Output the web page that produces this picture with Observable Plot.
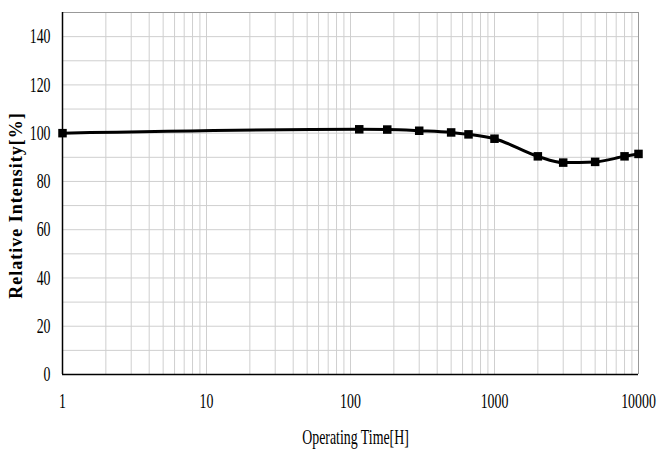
<!DOCTYPE html>
<html>
<head>
<meta charset="utf-8">
<script src="https://cdn.jsdelivr.net/npm/d3@7"></script>
<script src="https://cdn.jsdelivr.net/npm/@observablehq/plot@0.6"></script>
<style>
  html, body { margin: 0; padding: 0; background: #fff; }
  svg { display: block; }
</style>
</head>
<body>
<div id="chart"></div>
<script>
// Data
const hours = [1, 115, 180, 300, 500, 660, 1000, 2000, 3000, 5000, 8000, 10000];
const intensity = [100, 101.6, 101.5, 101, 100.3, 99.5, 97.7, 90.4, 87.8, 88.1, 90.4, 91.4];

const xTicks = [1, 10, 100, 1000, 10000];
const yTicks = [0, 20, 40, 60, 80, 100, 120, 140];
const yGrid = [10, 20, 30, 40, 50, 60, 70, 80, 90, 100, 110, 120, 130, 140];
const decades = [1, 10, 100, 1000];
const xGrid = decades.flatMap(d => [2, 3, 4, 5, 6, 7, 8, 9, 10].map(m => m * d)).filter(v => v < 10000);

const data = hours.map((h, i) => ({h, v: intensity[i]}));

const chart = Plot.plot({
  width: 657,
  height: 449,
  marginLeft: 62,
  marginRight: 19,
  marginTop: 12,
  marginBottom: 75,
  style: {fontFamily: "'Liberation Serif', 'DejaVu Serif', serif", background: "#fff", color: "#000"},
  x: {type: "log", domain: [1, 10000]},
  y: {domain: [0, 150]},
  marks: [
    Plot.ruleX(xGrid, {stroke: "#cfcfcf", strokeWidth: 1, strokeOpacity: 1}),
    Plot.ruleY(yGrid, {stroke: "#cfcfcf", strokeWidth: 1, strokeOpacity: 1}),
    Plot.ruleY([150], {stroke: "#999", strokeWidth: 1}),
    Plot.ruleX([10000], {stroke: "#999", strokeWidth: 1}),
    Plot.ruleX([1], {stroke: "#000", strokeWidth: 1.5}),
    Plot.ruleY([0], {stroke: "#000", strokeWidth: 1.5}),
    Plot.axisX({ticks: xTicks, tickFormat: d => String(d), tickSize: 0, tickPadding: 19,
      label: "Operating Time[H]", labelAnchor: "center", labelArrow: "none", labelOffset: 69}),
    Plot.axisY({ticks: yTicks, tickSize: 0, tickPadding: 12,
      label: "Relative Intensity[%]", labelAnchor: "center", labelArrow: "none", labelOffset: 53}),
    Plot.line(data, {x: "h", y: "v", stroke: "#000", strokeWidth: 3, curve: "monotone-x"}),
    Plot.dot(data, {x: "h", y: "v", symbol: "square", r: 4.8, fill: "#000", stroke: "none"})
  ]
});

// Condense the tick labels and x label horizontally, like the reference's narrow serif
const sel = d3.select(chart);
sel.selectAll("g[aria-label='x-axis tick label'] text, g[aria-label='y-axis tick label'] text")
  .style("font-size", "21px")
  .each(function() {
    const t = this.getAttribute("transform") || "";
    this.setAttribute("transform", t + " scale(0.66,1)");
  });
sel.selectAll("g[aria-label='x-axis label'] text")
  .style("font-size", "22px")
  .each(function() {
    const t = this.getAttribute("transform") || "";
    this.setAttribute("transform", t + " translate(5,0) scale(0.63,1)");
  });
sel.selectAll("g[aria-label='y-axis label'] text")
  .style("font-size", "18px").style("font-weight", "bold").style("letter-spacing", "1px")
  .attr("dx", "-12");

document.getElementById("chart").append(chart);
</script>
</body>
</html>
